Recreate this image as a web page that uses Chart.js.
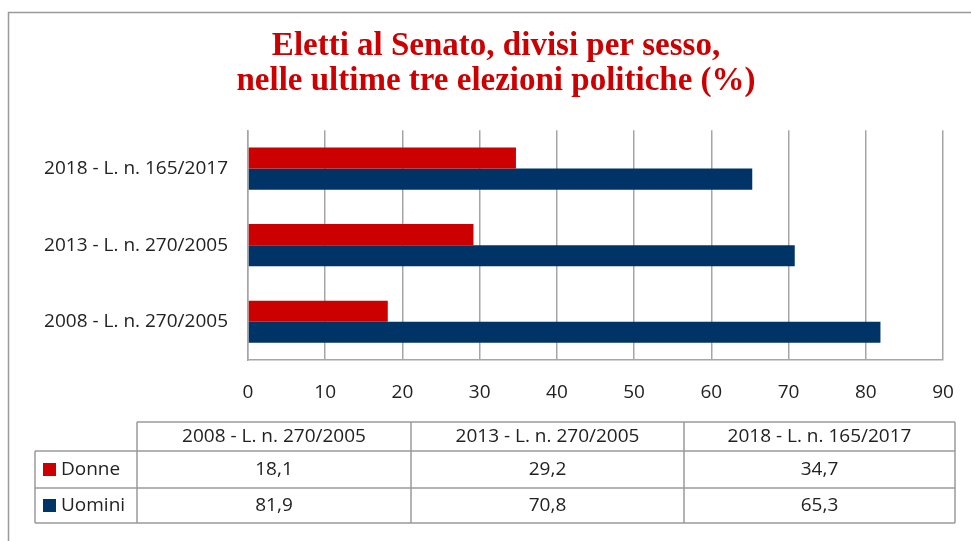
<!DOCTYPE html>
<html>
<head>
<meta charset="utf-8">
<script src="https://cdn.jsdelivr.net/npm/chart.js@4"></script>
<style>
    html, body { margin: 0; padding: 0; background: #fff; }
    #wrap { width: 971px; height: 541px; }
</style>
</head>
<body>
<div id="wrap"><canvas id="senatoChart" width="971" height="541"></canvas></div>
<script>
// categories as they appear in the data table (left to right)
var elezioni = ["2008 - L. n. 270/2005", "2013 - L. n. 270/2005", "2018 - L. n. 165/2017"];
var donne = [18.1, 29.2, 34.7];
var uomini = [81.9, 70.8, 65.3];
var xTicks = [0, 10, 20, 30, 40, 50, 60, 70, 80, 90];

var rosso = "#cc0000";
var blu = "#003366";
var griglia = "#a6a6a6";
var fontTesto = "'Open Sans', Lato, sans-serif";

function formatIt(v) {
    return v.toFixed(1).replace(".", ",");
}

// frame round the whole chart, and room for the long category labels
var framePlugin = {
    id: "frame",
    afterLayout: function (chart) {
        // labels are clipped to the axis box, so widen it to the left
        chart.scales.y.left = 12;
    },
    beforeDraw: function (chart) {
        var ctx = chart.ctx;
        ctx.save();
        ctx.fillStyle = "#fff";
        ctx.fillRect(0, 0, chart.width, chart.height);
        ctx.strokeStyle = "#9a9a9a";
        ctx.lineWidth = 1.5;
        ctx.strokeRect(8.5, 12.5, chart.width + 20, chart.height + 20);
        ctx.restore();
    }
};

// data table under the axis
var tablePlugin = {
    id: "dataTable",
    afterDraw: function (chart) {
        var ctx = chart.ctx;
        var cols = [137, 411, 684, 955];
        var rows = [422, 451, 488, 523];
        var legLeft = 35;
        ctx.save();
        ctx.strokeStyle = "#9a9a9a";
        ctx.lineWidth = 1.5;
        // horizontal lines
        ctx.beginPath();
        ctx.moveTo(cols[0], rows[0]); ctx.lineTo(cols[3], rows[0]);
        for (var r = 1; r < rows.length; r++) {
            ctx.moveTo(legLeft, rows[r]); ctx.lineTo(cols[3], rows[r]);
        }
        // vertical lines
        ctx.moveTo(legLeft, rows[1]); ctx.lineTo(legLeft, rows[3]);
        for (var c = 0; c < cols.length; c++) {
            ctx.moveTo(cols[c], rows[0]); ctx.lineTo(cols[c], rows[3]);
        }
        ctx.stroke();

        ctx.fillStyle = "#222";
        ctx.font = "19px " + fontTesto;
        ctx.textAlign = "center";
        ctx.textBaseline = "middle";
        var series = [donne, uomini];
        for (var i = 0; i < elezioni.length; i++) {
            var cx = (cols[i] + cols[i + 1]) / 2;
            ctx.fillText(elezioni[i], cx, (rows[0] + rows[1]) / 2);
            for (var s = 0; s < series.length; s++) {
                ctx.fillText(formatIt(series[s][i]), cx, (rows[s + 1] + rows[s + 2]) / 2);
            }
        }

        // legend keys
        var nomi = ["Donne", "Uomini"];
        var colori = [rosso, blu];
        ctx.textAlign = "left";
        for (var k = 0; k < nomi.length; k++) {
            var cy = (rows[k + 1] + rows[k + 2]) / 2;
            ctx.fillStyle = colori[k];
            ctx.fillRect(43, cy - 6.5, 13, 13);
            ctx.fillStyle = "#222";
            ctx.fillText(nomi[k], 61, cy);
        }
        ctx.restore();
    }
};

var senatoChart = new Chart("senatoChart", {
    type: "bar",
    data: {
        // chart lists the latest election on top
        labels: elezioni.slice().reverse(),
        datasets: [{
            label: "Donne",
            backgroundColor: rosso,
            data: donne.slice().reverse()
        },
        {
            label: "Uomini",
            backgroundColor: blu,
            data: uomini.slice().reverse()
        }]
    },
    options: {
        indexAxis: "y",
        responsive: false,
        animation: false,
        categoryPercentage: 0.55,
        barPercentage: 1.0,
        layout: {
            padding: { left: 49, right: 28, top: 0, bottom: 0 }
        },
        plugins: {
            legend: { display: false },
            tooltip: { enabled: false },
            title: {
                display: true,
                text: ["Eletti al Senato, divisi per sesso,", "nelle ultime tre elezioni politiche (%)"],
                color: rosso,
                padding: { top: 29, bottom: 32 },
                font: {
                    family: "'Liberation Serif', 'DejaVu Serif', serif",
                    size: 33,
                    weight: "bold",
                    lineHeight: 1.05
                }
            }
        },
        scales: {
            x: {
                min: 0,
                max: 90,
                afterBuildTicks: function (scale) {
                    scale.ticks = xTicks.map(function (v) { return { value: v }; });
                },
                afterFit: function (scale) {
                    scale.height = 181;
                    scale.paddingLeft = 0;
                    scale.paddingRight = 0;
                },
                grid: {
                    color: griglia,
                    lineWidth: 1.5,
                    drawTicks: false
                },
                border: { color: griglia, width: 1.5 },
                ticks: {
                    padding: 21,
                    color: "#222",
                    maxRotation: 0,
                    font: { family: fontTesto, size: 19 }
                }
            },
            y: {
                afterFit: function (scale) {
                    scale.width = 199;
                },
                grid: { display: false, drawTicks: false },
                border: { color: griglia, width: 1.5 },
                ticks: {
                    padding: 20,
                    color: "#222",
                    font: { family: fontTesto, size: 19 }
                }
            }
        }
    },
    plugins: [framePlugin, tablePlugin]
});
</script>
</body>
</html>
